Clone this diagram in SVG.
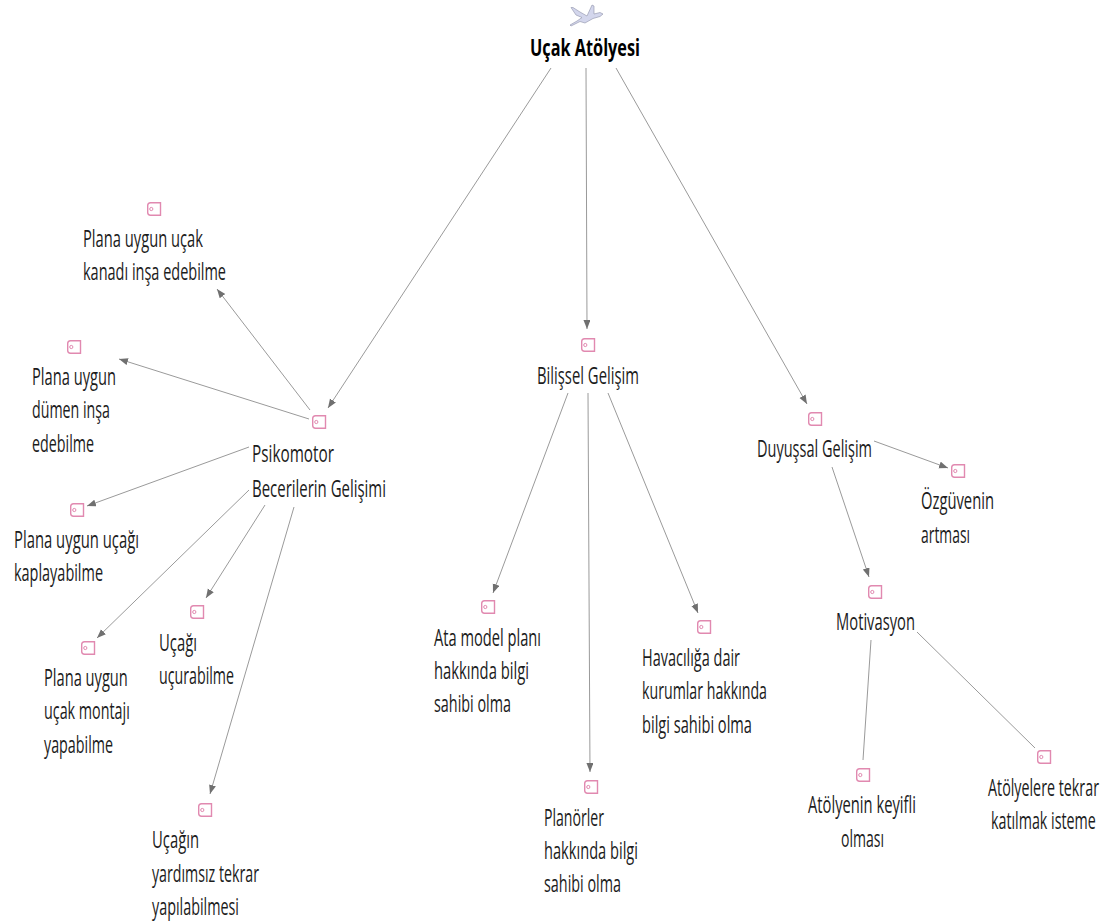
<svg xmlns="http://www.w3.org/2000/svg" width="1109" height="924" viewBox="0 0 1109 924">
<style>
text{font-family:"Open Sans","Noto Sans","Liberation Sans",sans-serif;font-size:23px;fill:#1c1c1c}
.t{font-weight:700;font-size:24px;fill:#000}
.c line{stroke:#9a9a9a;stroke-width:1;fill:none}
.a{marker-end:url(#m)}
.i{fill:#fff;stroke:#e189b0;stroke-width:1.4}
.i2{fill:none;stroke:#e189b0;stroke-width:1}
</style>
<defs>
<marker id="m" markerUnits="userSpaceOnUse" markerWidth="10" markerHeight="8" refX="9" refY="3.500" orient="auto"><path d="M0 0L9 3.500L0 7z" fill="#707070"/></marker>
<g id="ic"><path class="i" d="M3.500 .7H13.500V13.300H3.500Q.7 13.300 .7 10.500V3.500Q.7 .7 3.500 .7z"/><circle class="i2" cx="4.300" cy="7" r="1.600"/></g>
</defs>
<g class="c">
<line class="a" x1="551" y1="68" x2="328" y2="408"/>
<line class="a" x1="586" y1="68" x2="587" y2="329"/>
<line class="a" x1="616" y1="68" x2="807" y2="404"/>
<line class="a" x1="310" y1="410" x2="217" y2="289"/>
<line class="a" x1="309" y1="419" x2="119" y2="359"/>
<line class="a" x1="249" y1="447" x2="87" y2="506"/>
<line class="a" x1="249" y1="490" x2="97" y2="638"/>
<line class="a" x1="265" y1="505" x2="206" y2="598"/>
<line class="a" x1="294" y1="507" x2="210" y2="794"/>
<line class="a" x1="568" y1="393" x2="493" y2="593"/>
<line class="a" x1="588" y1="393" x2="590" y2="772"/>
<line class="a" x1="608" y1="393" x2="698" y2="613"/>
<line class="a" x1="874" y1="441" x2="948" y2="468"/>
<line class="a" x1="832" y1="467" x2="869" y2="577"/>
<line x1="871" y1="640" x2="863" y2="760"/>
<line x1="917" y1="632" x2="1035" y2="748"/>
</g>
<g id="root">
<path d="M587 16L592 5L594 6L594 14L600 12.500L603 14L600 16.500L593 18.500L585 23L580 21.500L571 26L570 25L577 21L582 17.500L576 15L571 7.500L573 7.500L580 12z" fill="#d3d6ec" stroke="#8d90a8" stroke-width=".6"/>
<text class="t" x="530" y="56" textLength="110" lengthAdjust="spacingAndGlyphs">Uçak Atölyesi</text></g>
<g id="n1"><use href="#ic" x="147" y="202"/><text x="83" y="247" textLength="120" lengthAdjust="spacingAndGlyphs">Plana uygun uçak</text><text x="83" y="280" textLength="143" lengthAdjust="spacingAndGlyphs">kanadı inşa edebilme</text></g>
<g id="n2"><use href="#ic" x="67" y="340"/><text x="32" y="385" textLength="84" lengthAdjust="spacingAndGlyphs">Plana uygun</text><text x="32" y="418" textLength="78" lengthAdjust="spacingAndGlyphs">dümen inşa</text><text x="32" y="452" textLength="62" lengthAdjust="spacingAndGlyphs">edebilme</text></g>
<g id="psiko"><use href="#ic" x="312" y="415"/><text x="252" y="462" textLength="82" lengthAdjust="spacingAndGlyphs">Psikomotor</text><text x="252" y="497" textLength="134" lengthAdjust="spacingAndGlyphs">Becerilerin Gelişimi</text></g>
<g id="n3"><use href="#ic" x="70" y="503"/><text x="14" y="548" textLength="125" lengthAdjust="spacingAndGlyphs">Plana uygun uçağı</text><text x="14" y="581" textLength="89" lengthAdjust="spacingAndGlyphs">kaplayabilme</text></g>
<g id="n4"><use href="#ic" x="81" y="641"/><text transform="translate(44 686) scale(.65 1)" textLength="129" lengthAdjust="spacingAndGlyphs">Plana uygun</text><text transform="translate(44 719) scale(.65 1)" textLength="132" lengthAdjust="spacingAndGlyphs">uçak montajı</text><text x="44" y="753" textLength="69" lengthAdjust="spacingAndGlyphs">yapabilme</text></g>
<g id="n5"><use href="#ic" x="190" y="605"/><text x="159" y="651" textLength="38" lengthAdjust="spacingAndGlyphs">Uçağı</text><text x="159" y="684" textLength="75" lengthAdjust="spacingAndGlyphs">uçurabilme</text></g>
<g id="n6"><use href="#ic" x="198" y="803"/><text x="152" y="848" textLength="47" lengthAdjust="spacingAndGlyphs">Uçağın</text><text x="152" y="882" textLength="107" lengthAdjust="spacingAndGlyphs">yardımsız tekrar</text><text x="152" y="915" textLength="87" lengthAdjust="spacingAndGlyphs">yapılabilmesi</text></g>
<g id="bilis"><use href="#ic" x="581" y="338"/><text x="537" y="384" textLength="102" lengthAdjust="spacingAndGlyphs">Bilişsel Gelişim</text></g>
<g id="n7"><use href="#ic" x="481" y="600"/><text x="434" y="646" textLength="107" lengthAdjust="spacingAndGlyphs">Ata model planı</text><text x="434" y="679" textLength="95" lengthAdjust="spacingAndGlyphs">hakkında bilgi</text><text x="434" y="712" textLength="77" lengthAdjust="spacingAndGlyphs">sahibi olma</text></g>
<g id="n8"><use href="#ic" x="584" y="780"/><text x="544" y="826" textLength="60" lengthAdjust="spacingAndGlyphs">Planörler</text><text x="544" y="859" textLength="94" lengthAdjust="spacingAndGlyphs">hakkında bilgi</text><text x="544" y="892" textLength="77" lengthAdjust="spacingAndGlyphs">sahibi olma</text></g>
<g id="n9"><use href="#ic" x="697" y="620"/><text x="642" y="666" textLength="98" lengthAdjust="spacingAndGlyphs">Havacılığa dair</text><text x="642" y="699" textLength="125" lengthAdjust="spacingAndGlyphs">kurumlar hakkında</text><text x="642" y="733" textLength="110" lengthAdjust="spacingAndGlyphs">bilgi sahibi olma</text></g>
<g id="duyu"><use href="#ic" x="808" y="412"/><text x="757" y="457" textLength="115" lengthAdjust="spacingAndGlyphs">Duyuşsal Gelişim</text></g>
<g id="n10"><use href="#ic" x="951" y="464"/><text x="921" y="509" textLength="73" lengthAdjust="spacingAndGlyphs">Özgüvenin</text><text x="921" y="543" textLength="49" lengthAdjust="spacingAndGlyphs">artması</text></g>
<g id="moti"><use href="#ic" x="868" y="585"/><text x="836" y="630" textLength="79" lengthAdjust="spacingAndGlyphs">Motivasyon</text></g>
<g id="n11"><use href="#ic" x="856" y="768"/><text x="808" y="813" textLength="108" lengthAdjust="spacingAndGlyphs">Atölyenin keyifli</text><text x="841" y="847" textLength="43" lengthAdjust="spacingAndGlyphs">olması</text></g>
<g id="n12"><use href="#ic" x="1037" y="750"/><text transform="translate(988 796) scale(.62 1)" textLength="179" lengthAdjust="spacingAndGlyphs">Atölyelere tekrar</text><text transform="translate(991 829) scale(.62 1)" textLength="169" lengthAdjust="spacingAndGlyphs">katılmak isteme</text></g>
</svg>
